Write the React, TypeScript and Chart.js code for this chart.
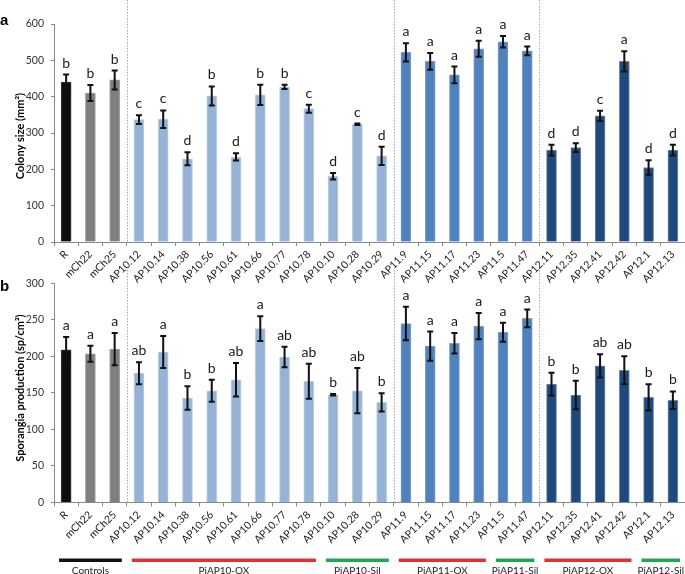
import React, { useEffect, useRef } from "react";
import { Chart, registerables } from "chart.js";

Chart.register(...registerables);

// ---------- data ----------
const categories = [
  "R", "mCh22", "mCh25",
  "AP10.12", "AP10.14", "AP10.38", "AP10.56", "AP10.61", "AP10.66", "AP10.77", "AP10.78",
  "AP10.10", "AP10.28", "AP10.29",
  "AP11.9", "AP11.15", "AP11.17", "AP11.23",
  "AP11.5", "AP11.47",
  "AP12.11", "AP12.35", "AP12.41", "AP12.42",
  "AP12.1", "AP12.13",
];

const colonySize = [440, 410, 446, 337, 338, 229, 402, 234, 405, 427, 367, 181, 324, 237, 522, 497, 460, 532, 551, 526, 253, 260, 347, 497, 205, 253];
const colonyErr = [21, 22, 26, 12, 24, 18, 26, 10, 28, 6, 11, 9, 2, 25, 25, 23, 23, 22, 16, 12, 15, 12, 14, 28, 20, 15];
const colonyLetters = ["b", "b", "b", "c", "c", "d", "b", "d", "b", "b", "c", "d", "c", "d", "a", "a", "a", "a", "a", "a", "d", "d", "c", "a", "d", "d"];

const sporangia = [209, 203.5, 210, 177, 206, 143, 153, 168, 238, 199, 166, 147.5, 153, 137, 245, 214, 218, 241.5, 233, 252, 162, 147, 187, 181, 144, 140];
const sporangiaErr = [17.5, 11, 22, 15, 22, 16, 15, 23, 17, 14, 24, 1, 31, 12.5, 23, 20, 14, 18, 13, 12, 15.5, 19.5, 16, 19, 18, 12];
const sporangiaLetters = ["a", "a", "a", "ab", "a", "b", "b", "ab", "a", "ab", "ab", "b", "ab", "b", "a", "a", "a", "a", "a", "a", "b", "b", "ab", "ab", "b", "b"];

const groupNames = ["Controls", "PiAP10-OX", "PiAP10-Sil", "PiAP11-OX", "PiAP11-Sil", "PiAP12-OX", "PiAP12-Sil"];
const groupSizes = [3, 8, 3, 4, 2, 4, 2];
const groupKinds = ["control", "OX", "Sil", "OX", "Sil", "OX", "Sil"];

// ---------- styles ----------
const FONT = "Lato, 'Open Sans', sans-serif";
const AXIS_GRAY = "#8a8a8a";
const kindColor: Record<string, string> = { control: "#111111", OX: "#f42a2a", Sil: "#12b04c" };

function lineOf(c: string): string {
  if (c === "R") return "R";
  if (c.startsWith("mCh")) return "mCh";
  if (c.startsWith("AP10")) return "AP10";
  if (c.startsWith("AP11")) return "AP11";
  return "AP12";
}
const fillFor: Record<string, string> = {
  R: "#0d0d0d",
  mCh: "#7f7f7f",
  AP10: "#95b3d7",
  AP11: "#4f81bd",
  AP12: "#1f497d",
};
const edgeFor: Record<string, string> = {
  R: "#3a3a3a",
  mCh: "#a0a0a0",
  AP10: "#b9cde5",
  AP11: "#7fa1cf",
  AP12: "#6f8bb0",
};

function family(c: string) {
  const l = lineOf(c);
  return l === "R" || l === "mCh" ? "ctrl" : l;
}
const separators: number[] = [];
for (let i = 1; i < categories.length; i++) {
  if (family(categories[i]) !== family(categories[i - 1])) separators.push(i);
}

type PanelOpts = {
  values: number[];
  errs: number[];
  letters: string[];
  max: number;
  step: number;
  title: string;
  titleCenterY: number;
  panel: string;
  panelBaseline: number;
  padTop: number;
  xHeight: number;
  sepTop: number;
  groups: boolean;
};

function makeConfig(o: PanelOpts): any {
  const plugin = {
    id: "overlay",
    afterDraw(chart: any) {
      const ctx = chart.ctx as CanvasRenderingContext2D;
      const x = chart.scales.x;
      const y = chart.scales.y;
      const meta = chart.getDatasetMeta(0);
      const area = chart.chartArea;
      const half = (x.getPixelForValue(1) - x.getPixelForValue(0)) / 2;
      ctx.save();
      ctx.strokeStyle = "#a6a6a6";
      ctx.lineWidth = 1;
      ctx.setLineDash([1.5, 1.5]);
      separators.forEach((i) => {
        const px = Math.round(x.getPixelForValue(i) - half) + 0.5;
        ctx.beginPath();
        ctx.moveTo(px, o.sepTop);
        ctx.lineTo(px, area.bottom);
        ctx.stroke();
      });
      ctx.setLineDash([]);
      ctx.strokeStyle = "#111";
      ctx.lineWidth = 2;
      ctx.fillStyle = "#1a1a1a";
      ctx.font = `14px ${FONT}`;
      ctx.textAlign = "center";
      ctx.textBaseline = "alphabetic";
      o.values.forEach((v, i) => {
        const cx = meta.data[i].x;
        const yt = y.getPixelForValue(v + o.errs[i]);
        const yb = y.getPixelForValue(v - o.errs[i]);
        ctx.beginPath();
        ctx.moveTo(cx, yt);
        ctx.lineTo(cx, yb);
        ctx.moveTo(cx - 3, yt);
        ctx.lineTo(cx + 3, yt);
        ctx.moveTo(cx - 3, yb);
        ctx.lineTo(cx + 3, yb);
        ctx.stroke();
        ctx.fillText(o.letters[i], cx, yt - 7);
      });
      ctx.fillStyle = "#000";
      ctx.font = `bold 11px ${FONT}`;
      ctx.save();
      ctx.translate(20.5, o.titleCenterY);
      ctx.rotate(-Math.PI / 2);
      ctx.textBaseline = "middle";
      ctx.fillText(o.title, 0, 0);
      ctx.restore();
      ctx.font = "bold 15px 'Liberation Sans', Arial, sans-serif";
      ctx.textAlign = "left";
      ctx.fillText(o.panel, 0, o.panelBaseline);
      if (o.groups) {
        let start = 0;
        groupNames.forEach((name, g) => {
          const end = start + groupSizes[g] - 1;
          const x0 = x.getPixelForValue(start) - half + 5;
          const x1 = x.getPixelForValue(end) + half - 5;
          ctx.fillStyle = kindColor[groupKinds[g]];
          ctx.fillRect(x0, 288.5, x1 - x0, 3.5);
          ctx.fillStyle = "#222";
          ctx.font = `10px ${FONT}`;
          ctx.textAlign = "center";
          ctx.textBaseline = "alphabetic";
          ctx.fillText(name, (x0 + x1) / 2, 303.5);
          start = end + 1;
        });
      }
      ctx.restore();
    },
  };

  return {
    type: "bar",
    data: {
      labels: categories,
      datasets: [
        {
          data: o.values,
          backgroundColor: categories.map((c) => fillFor[lineOf(c)]),
          borderColor: categories.map((c) => edgeFor[lineOf(c)]),
          borderWidth: 1,
          barThickness: 10,
        },
      ],
    },
    options: {
      animation: false,
      responsive: false,
      devicePixelRatio: 1,
      layout: { padding: { top: o.padTop, right: 0, bottom: 0, left: 0 } },
      plugins: { legend: { display: false }, tooltip: { enabled: false }, title: { display: false } },
      scales: {
        x: {
          offset: true,
          grid: { offset: true, drawOnChartArea: false, tickLength: 4, color: AXIS_GRAY },
          border: { color: AXIS_GRAY },
          ticks: {
            autoSkip: false,
            maxRotation: 45,
            minRotation: 45,
            padding: 2,
            color: "#1a1a1a",
            font: { family: FONT, size: 10.5 },
          },
          afterFit: (s: any) => {
            s.height = o.xHeight;
          },
        },
        y: {
          min: 0,
          max: o.max,
          ticks: { stepSize: o.step, padding: 7, color: "#333", font: { family: FONT, size: 10.5 } },
          grid: { drawOnChartArea: false, tickLength: 3, color: AXIS_GRAY },
          border: { color: AXIS_GRAY },
          afterFit: (s: any) => {
            s.width = 54;
          },
        },
      },
    },
    plugins: [plugin],
  };
}

export default function App() {
  const topRef = useRef<HTMLCanvasElement>(null);
  const botRef = useRef<HTMLCanvasElement>(null);

  useEffect(() => {
    const top = new Chart(
      topRef.current as HTMLCanvasElement,
      makeConfig({
        values: colonySize,
        errs: colonyErr,
        letters: colonyLetters,
        max: 600,
        step: 100,
        title: "Colony size (mm²)",
        titleCenterY: 136,
        panel: "a",
        panelBaseline: 25,
        padTop: 24,
        xHeight: 48,
        sepTop: 0,
        groups: false,
      })
    );
    const bot = new Chart(
      botRef.current as HTMLCanvasElement,
      makeConfig({
        values: sporangia,
        errs: sporangiaErr,
        letters: sporangiaLetters,
        max: 300,
        step: 50,
        title: "Sporangia production (sp/cm²)",
        titleCenterY: 118,
        panel: "b",
        panelBaseline: 21,
        padTop: 13,
        xHeight: 71.5,
        sepTop: 0,
        groups: true,
      })
    );
    return () => {
      top.destroy();
      bot.destroy();
    };
  }, []);

  return (
    <div style={{ position: "absolute", left: 0, top: 0, width: 685, height: 574, background: "#fff" }}>
      <canvas
        ref={topRef}
        width={685}
        height={290}
        style={{ position: "absolute", left: 0, top: 0, width: 685, height: 290 }}
      />
      <canvas
        ref={botRef}
        width={685}
        height={304}
        style={{ position: "absolute", left: 0, top: 270, width: 685, height: 304 }}
      />
    </div>
  );
}
